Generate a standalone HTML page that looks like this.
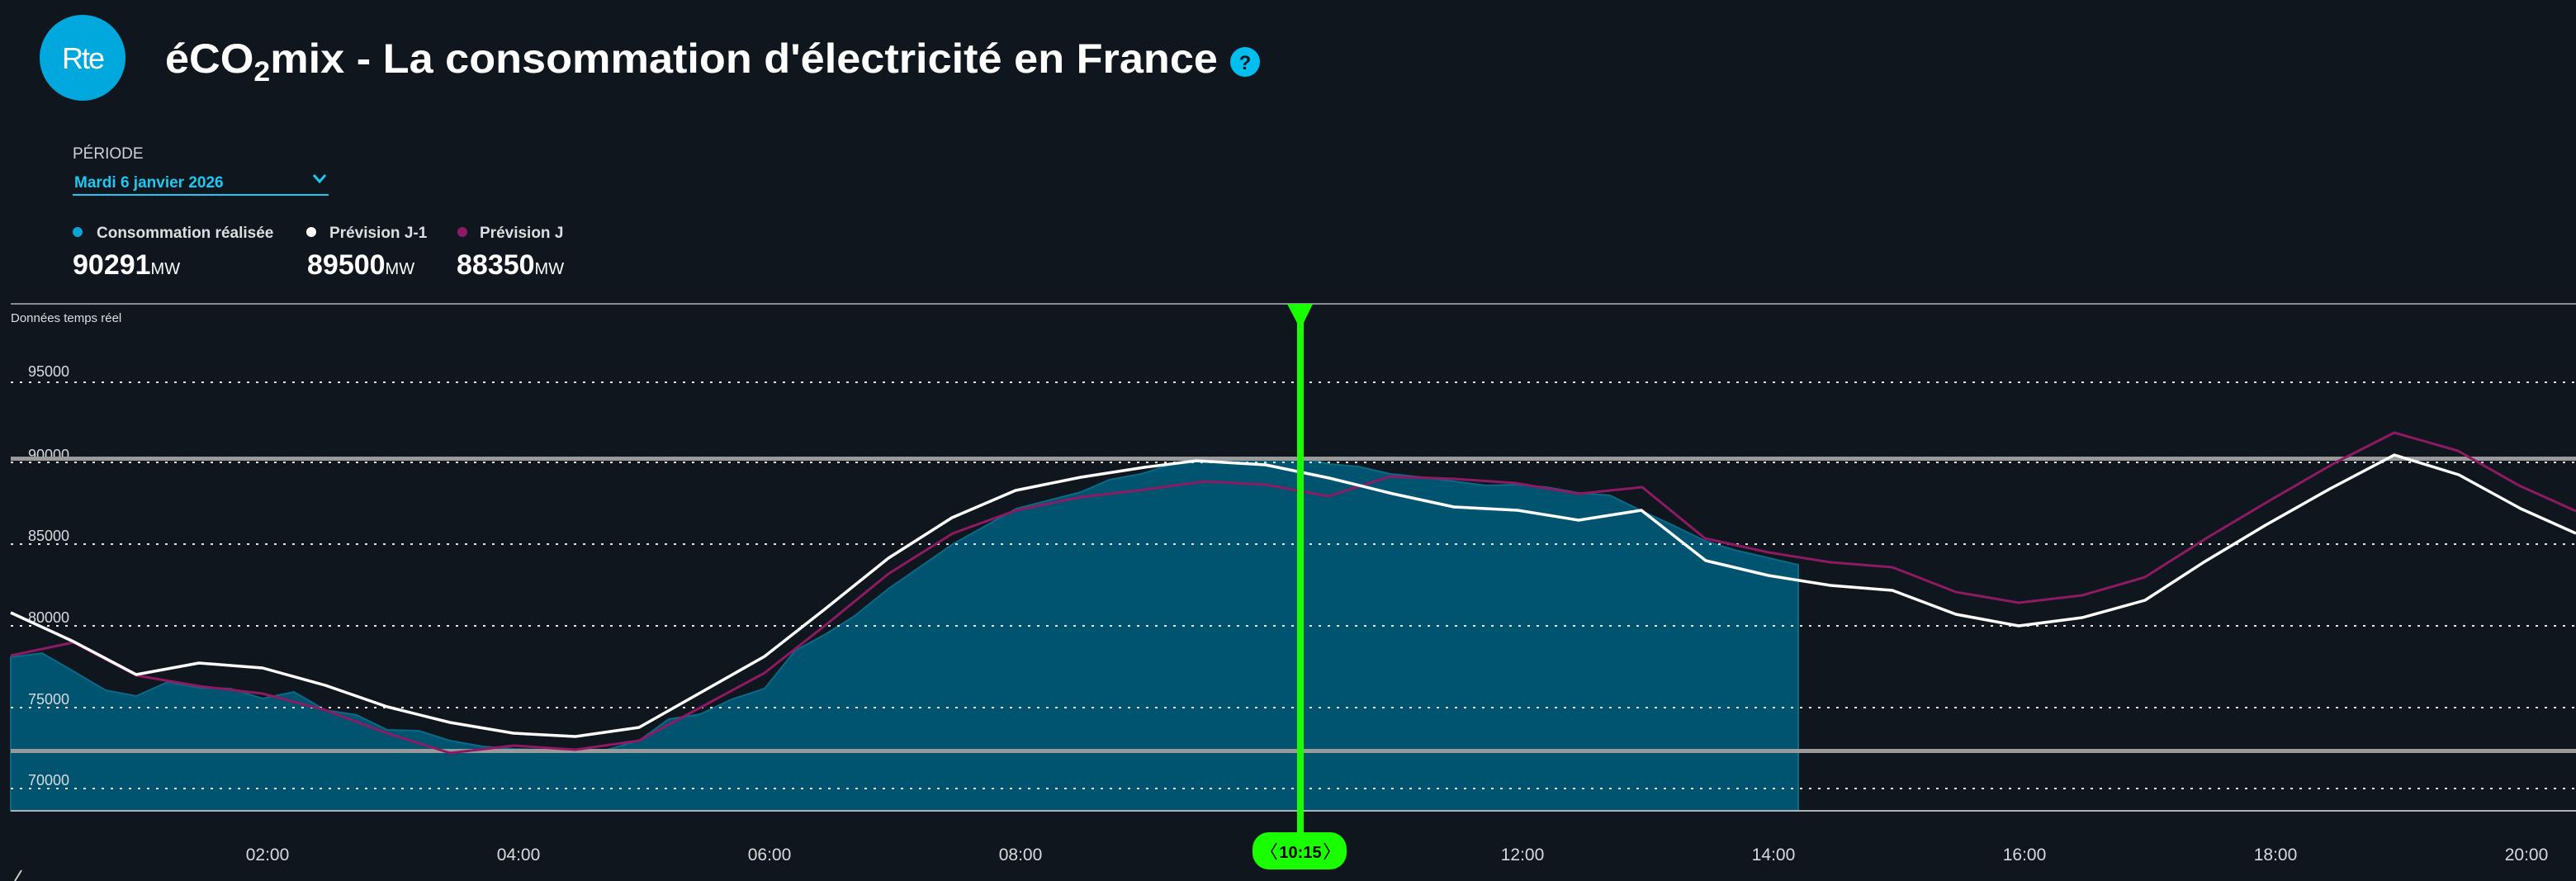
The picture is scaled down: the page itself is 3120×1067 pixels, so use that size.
<!DOCTYPE html>
<html><head><meta charset="utf-8"><style>
html,body{margin:0;padding:0;background:#10161d;width:3120px;height:1067px;overflow:hidden}
svg{display:block}
text{font-family:"Liberation Sans",sans-serif}
</style></head><body>
<svg width="3120" height="1067" viewBox="0 0 3120 1067" xmlns="http://www.w3.org/2000/svg">
<rect width="3120" height="1067" fill="#10161d"/>
<!-- header -->
<circle cx="100" cy="70" r="52" fill="#00a8de"/>
<text x="100" y="83" fill="#fff" font-size="36" text-anchor="middle" letter-spacing="-2">Rte</text>
<text x="200" y="88" fill="#fff" font-size="50" font-weight="bold" textLength="1275" lengthAdjust="spacingAndGlyphs">éCO<tspan font-size="34" dy="10">2</tspan><tspan dy="-10">mix - La consommation d'électricité en France</tspan></text>
<circle cx="1508" cy="75" r="18" fill="#00bfef"/>
<text x="1508" y="84" fill="#10161d" font-size="24" font-weight="bold" text-anchor="middle">?</text>
<text x="88" y="192" fill="#cfd3d6" font-size="19">PÉRIODE</text>
<text x="90" y="227" fill="#1ec8f0" font-size="19" font-weight="bold">Mardi 6 janvier 2026</text>
<path d="M380 212 L387 220 L394 212" stroke="#1ec8f0" stroke-width="3" fill="none"/>
<rect x="88" y="235" width="310" height="2" fill="#1ec8f0"/>
<circle cx="94" cy="281" r="6" fill="#0aa3d6"/>
<text x="117" y="288" fill="#dcdfe1" font-size="19" font-weight="bold">Consommation réalisée</text>
<circle cx="377" cy="281" r="6" fill="#fff"/>
<text x="399" y="288" fill="#dcdfe1" font-size="19" font-weight="bold">Prévision J-1</text>
<circle cx="560" cy="281" r="6" fill="#8e1a64"/>
<text x="581" y="288" fill="#dcdfe1" font-size="19" font-weight="bold">Prévision J</text>
<text x="88" y="332" fill="#fff" font-size="34" font-weight="bold">90291<tspan font-size="20" font-weight="normal">MW</tspan></text>
<text x="372" y="332" fill="#fff" font-size="34" font-weight="bold">89500<tspan font-size="20" font-weight="normal">MW</tspan></text>
<text x="553" y="332" fill="#fff" font-size="34" font-weight="bold">88350<tspan font-size="20" font-weight="normal">MW</tspan></text>
<!-- chart frame -->
<rect x="13" y="367" width="3107" height="2" fill="#8a8d90"/>
<text x="13" y="390" fill="#dcdfe1" font-size="15">Données temps réel</text>
<!-- fill -->
<polygon fill="#00546f" stroke="#0a6a88" stroke-width="2" points="13,796 51,791 89,813 128,836 165,843 203,826 241,833 279,834 318,846 356,838 394,860 432,866 469,884 507,885 545,897 584,904 622,907 660,908 697,908 735,908 774,897 810,871 848,865 886,847 926,834 963,788 1000,768 1035,746 1076,713 1154,659 1231,616 1309,596 1344,581 1382,574 1421,562 1459,557 1533,557 1589,557 1610,562 1645,565 1684,574 1723,578 1761,583 1800,588 1835,587 1873,590 1912,597 1950,600 1989,619 2028,637 2065,655 2100,666 2139,675 2178,684 2178,982 13,982"/>
<!-- grid -->
<g stroke="#e6e6e6" stroke-width="2" stroke-dasharray="3 8">
<line x1="13" y1="463" x2="3120" y2="463"/>
<line x1="13" y1="560" x2="3120" y2="560"/>
<line x1="13" y1="659" x2="3120" y2="659"/>
<line x1="13" y1="758" x2="3120" y2="758"/>
<line x1="13" y1="857" x2="3120" y2="857"/>
<line x1="13" y1="955" x2="3120" y2="955"/>
</g>
<g fill="#d8dbdd" font-size="18">
<text x="34" y="456">95000</text>
<text x="34" y="557">90000</text>
<text x="34" y="655">85000</text>
<text x="34" y="754">80000</text>
<text x="34" y="853">75000</text>
<text x="34" y="951">70000</text>
</g>
<rect x="13" y="553" width="3107" height="5" fill="#9a9a9a"/>
<rect x="13" y="907" width="3107" height="5" fill="#9a9a9a"/>
<rect x="13" y="981" width="3107" height="2" fill="#b0b3b5"/>
<!-- J -->
<polyline fill="none" stroke="#8e1a64" stroke-width="3" stroke-linejoin="round" points="13,794 89,778 165,818 241,831 318,840 394,860 469,888 545,912 622,903 697,908 774,897 850,856 926,815 1000,757 1076,695 1154,646 1231,618 1309,602 1386,593 1459,583 1533,587 1609,601 1684,577 1761,580 1835,585 1912,598 1989,590 2065,652 2142,669 2217,681 2292,687 2369,717 2445,730 2522,721 2598,699 2672,652 2751,605 2829,560 2900,524 2977,546 3051,588 3120,619"/>
<!-- J-1 -->
<polyline fill="none" stroke="#ffffff" stroke-width="3.5" stroke-linejoin="round" points="13,742 89,777 165,817 241,803 318,809 394,830 469,856 545,875 622,888 697,892 774,881 850,838 926,795 1000,737 1076,676 1153,627 1230,594 1309,578 1386,566 1449,558 1533,563 1610,579 1687,598 1761,614 1838,618 1912,630 1988,618 2066,679 2142,697 2217,709 2292,715 2369,744 2445,758 2522,748 2598,727 2669,681 2744,636 2822,592 2900,551 2978,575 3053,616 3120,646"/>
<!-- x labels -->
<g fill="#d8dbdd" font-size="21" text-anchor="middle">
<text x="324" y="1042">02:00</text>
<text x="628" y="1042">04:00</text>
<text x="932" y="1042">06:00</text>
<text x="1236" y="1042">08:00</text>
<text x="1844" y="1042">12:00</text>
<text x="2148" y="1042">14:00</text>
<text x="2452" y="1042">16:00</text>
<text x="2756" y="1042">18:00</text>
<text x="3060" y="1042">20:00</text>
</g>
<!-- cursor -->
<rect x="1571" y="380" width="8" height="640" fill="#1aff00"/>
<polygon points="1559,368 1590,368 1577,395 1573,395" fill="#1aff00"/>
<rect x="1517" y="1008" width="114" height="45" rx="20" fill="#1aff00"/>
<text x="1575" y="1039" fill="#000" font-size="20" font-weight="bold" text-anchor="middle">10:15</text>
<path d="M1546 1021 L1540 1031 L1546 1041 M1604 1021 L1610 1031 L1604 1041" stroke="#000" stroke-width="1.5" fill="none"/>
<path d="M18 1067 L26 1054" stroke="#ccc" stroke-width="2"/>
</svg>
</body></html>
